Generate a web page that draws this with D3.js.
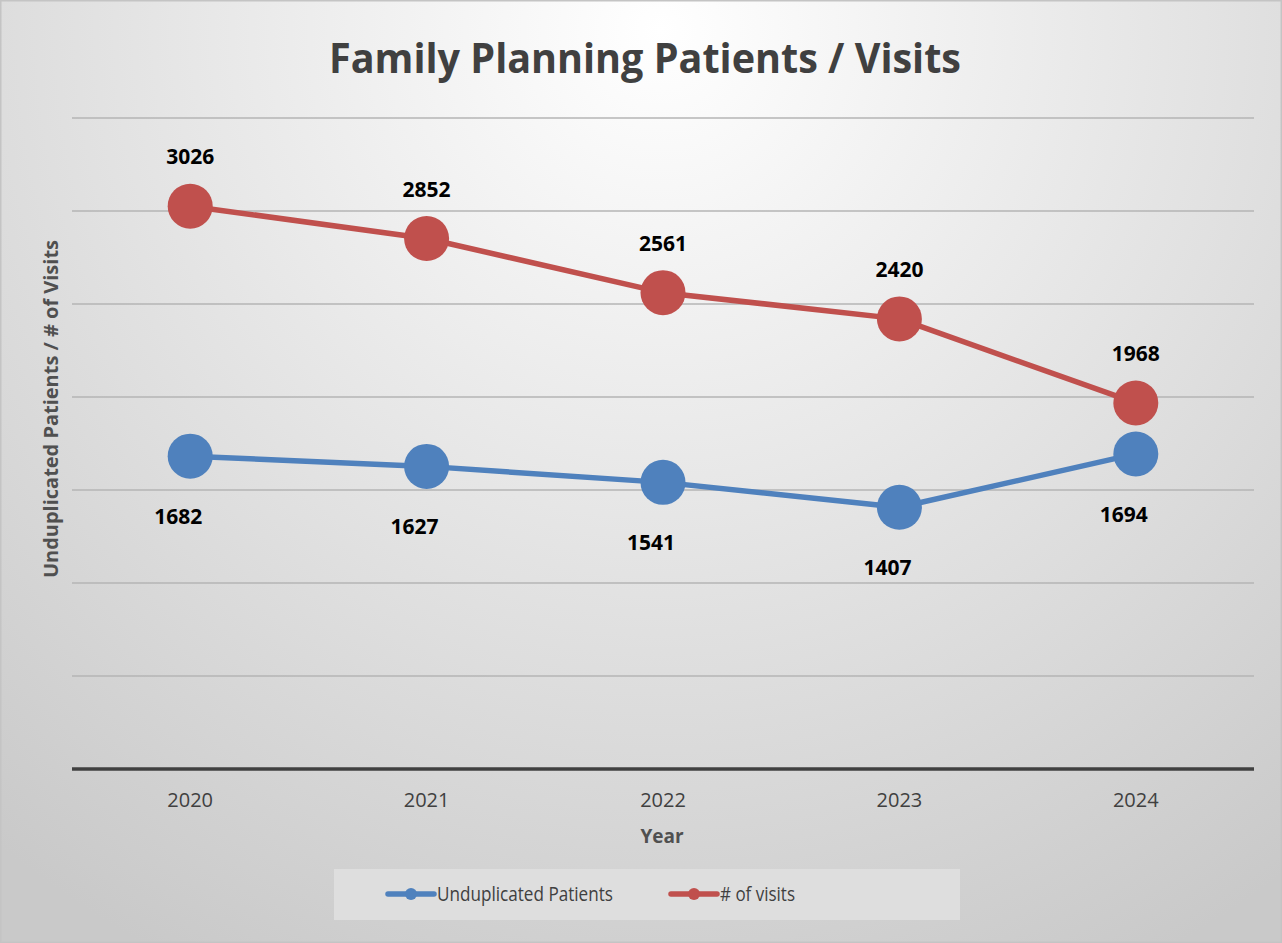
<!DOCTYPE html>
<html>
<head>
<meta charset="utf-8">
<script src="https://cdn.jsdelivr.net/npm/d3@7"></script>
<style>
  body { margin: 0; background: #fff; }
  svg { display: block; }
</style>
</head>
<body>
<div id="corpo"></div>
<script>
var years = ["2020", "2021", "2022", "2023", "2024"];
var patients = [1682, 1627, 1541, 1407, 1694];
var visits = [3026, 2852, 2561, 2420, 1968];
var yTicks = [0, 500, 1000, 1500, 2000, 2500, 3000, 3500];

var width = 1282, height = 943;
var margin = {top: 118, left: 72, right: 28, bottom: 174};

var svg = d3.select("#corpo").append("svg")
    .attr("width", width)
    .attr("height", height);

// background gradient
var defs = svg.append("defs");
var grad = defs.append("radialGradient")
    .attr("id", "bg")
    .attr("gradientUnits", "userSpaceOnUse")
    .attr("cx", 660).attr("cy", 30).attr("r", 1050);
grad.append("stop").attr("offset", "0%").attr("stop-color", "#ffffff");
grad.append("stop").attr("offset", "100%").attr("stop-color", "#c9c9c9");

svg.append("rect")
    .attr("x", 0).attr("y", 0)
    .attr("width", width).attr("height", height)
    .attr("fill", "url(#bg)")
    .attr("stroke", "#c4c4c4")
    .attr("stroke-width", 3);

var x = d3.scalePoint()
    .domain(years)
    .range([margin.left, width - margin.right])
    .padding(0.5);

var y = d3.scaleLinear()
    .domain([0, 3500])
    .range([height - margin.bottom, margin.top]);

// gridlines
svg.append("g")
    .selectAll("line")
    .data(yTicks.slice(1))
    .enter().append("line")
    .attr("x1", margin.left)
    .attr("x2", width - margin.right)
    .attr("y1", function(d) { return y(d); })
    .attr("y2", function(d) { return y(d); })
    .attr("stroke", "#b4b4b4")
    .attr("stroke-width", 1.5);

// x axis line
svg.append("line")
    .attr("x1", margin.left)
    .attr("x2", width - margin.right)
    .attr("y1", y(0))
    .attr("y2", y(0))
    .attr("stroke", "#404040")
    .attr("stroke-width", 3.5);

// x tick labels
svg.append("g")
    .selectAll("text")
    .data(years)
    .enter().append("text")
    .attr("x", function(d) { return x(d); })
    .attr("y", 807)
    .attr("text-anchor", "middle")
    .style("font-family", "Open Sans")
    .style("font-size", "20px")
    .style("fill", "#404040")
    .text(function(d) { return d; });

// title
svg.append("text")
    .attr("x", 645)
    .attr("y", 73)
    .attr("text-anchor", "middle")
    .attr("textLength", 632)
    .attr("lengthAdjust", "spacingAndGlyphs")
    .style("font-family", "Open Sans")
    .style("font-weight", "bold")
    .style("font-size", "41px")
    .style("fill", "#404040")
    .text("Family Planning Patients / Visits");

// axis titles
svg.append("text")
    .attr("x", 662)
    .attr("y", 843)
    .attr("text-anchor", "middle")
    .style("font-family", "Open Sans")
    .style("font-weight", "bold")
    .style("font-size", "19px")
    .style("fill", "#505050")
    .text("Year");

svg.append("text")
    .attr("transform", "translate(58,409) rotate(-90)")
    .attr("text-anchor", "middle")
    .attr("textLength", 338)
    .attr("lengthAdjust", "spacingAndGlyphs")
    .style("font-family", "Open Sans")
    .style("font-weight", "bold")
    .style("font-size", "19px")
    .style("fill", "#505050")
    .text("Unduplicated Patients / # of Visits");

var series = [
    {name: "Unduplicated Patients", values: patients, color: "#4f81bd", dy: 68, dx: -12, legendLen: 176},
    {name: "# of visits", values: visits, color: "#c0504d", dy: -42, dx: 0, legendLen: 75}
];

var line = d3.line()
    .x(function(d, i) { return x(years[i]); })
    .y(function(d) { return y(d); });

series.forEach(function(s) {
    var g = svg.append("g");
    g.append("path")
        .attr("d", line(s.values))
        .attr("fill", "none")
        .attr("stroke", s.color)
        .attr("stroke-width", 5.5)
        .attr("stroke-linejoin", "round");
    g.selectAll("circle")
        .data(s.values)
        .enter().append("circle")
        .attr("cx", function(d, i) { return x(years[i]); })
        .attr("cy", function(d) { return y(d); })
        .attr("r", 22.5)
        .attr("fill", s.color);
    g.selectAll("text")
        .data(s.values)
        .enter().append("text")
        .attr("x", function(d, i) { return x(years[i]) + s.dx; })
        .attr("y", function(d) { return y(d) + s.dy; })
        .attr("text-anchor", "middle")
        .style("font-family", "Open Sans")
        .style("font-weight", "bold")
        .style("font-size", "21px")
        .style("fill", "#000")
        .text(function(d) { return d; });
});

// legend
var legend = svg.append("g");
legend.append("rect")
    .attr("x", 334).attr("y", 869)
    .attr("width", 626).attr("height", 51)
    .attr("fill", "#dedede");

var legendX = [388, 671];
series.forEach(function(s, i) {
    var lg = legend.append("g").attr("transform", "translate(" + legendX[i] + ",894)");
    lg.append("line")
        .attr("x1", 0).attr("x2", 46)
        .attr("stroke", s.color)
        .attr("stroke-width", 5.5)
        .attr("stroke-linecap", "round");
    lg.append("circle")
        .attr("cx", 23).attr("r", 6)
        .attr("fill", s.color);
    lg.append("text")
        .attr("x", 49)
        .attr("y", 7)
        .attr("textLength", s.legendLen)
        .attr("lengthAdjust", "spacingAndGlyphs")
        .style("font-family", "Open Sans")
        .style("font-size", "20px")
        .style("fill", "#404040")
        .text(s.name);
});
</script>
</body>
</html>
